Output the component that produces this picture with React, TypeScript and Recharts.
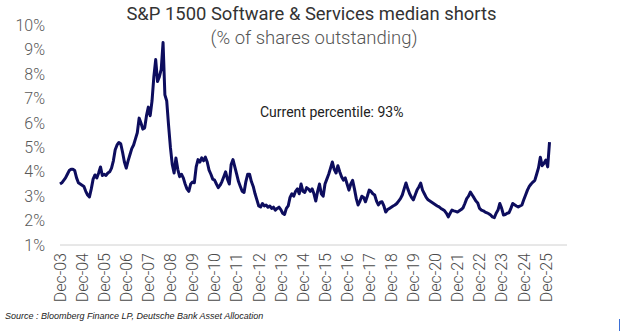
import React from "react";
import { LineChart, Line, XAxis, YAxis } from "recharts";

// Monthly median short interest (% of shares outstanding), starting Dec 2003
const startLabel = "Dec-03";
const shortsPct: number[] = [
  3.5, 3.55, 3.65, 3.75, 3.9, 4.05, 4.1, 4.1, 4.05, 3.75, 3.55, 3.5,
  3.45, 3.4, 3.2, 3.05, 2.97, 3.3, 3.7, 3.87, 3.75, 3.95, 4.2, 3.85,
  3.9, 3.85, 3.95, 4.0, 4.15, 4.45, 4.9, 5.1, 5.2, 5.15, 4.8, 4.4,
  4.15, 4.45, 4.7, 4.95, 5.1, 5.35, 5.6, 6.2, 6.0, 5.75, 5.8, 6.3,
  6.65, 6.3, 6.9, 7.9, 8.6, 7.7, 7.9, 8.2, 9.3, 7.15, 6.9, 5.9,
  5.0, 4.3, 3.95, 4.57, 4.1, 3.8, 3.9, 3.75, 3.5, 3.3, 3.2, 3.5,
  3.58, 3.55, 4.2, 4.5, 4.4, 4.57, 4.45, 4.6, 4.4, 4.07, 3.9, 3.7,
  3.66, 3.5, 3.35, 3.45, 3.6, 3.8, 4.0, 3.7, 3.5, 4.3, 4.5, 4.2,
  3.9, 3.6, 3.4, 3.2, 3.15, 3.6, 3.9, 3.9, 3.6, 3.4, 3.1, 2.85,
  2.6, 2.56, 2.7, 2.6, 2.64, 2.55, 2.6, 2.5, 2.55, 2.43, 2.5, 2.55,
  2.45, 2.3, 2.25, 2.5, 2.6, 2.95, 3.1, 3.0, 3.2, 3.3, 3.1, 3.5,
  3.2, 3.15, 3.35, 3.3, 3.2, 3.3, 3.1, 2.8, 3.2, 3.5, 3.1, 3.0,
  3.5, 3.7, 3.9, 4.15, 4.4, 4.1, 3.95, 4.25, 4.0, 3.8, 3.66, 3.75,
  3.5, 3.25, 3.5, 3.65, 3.3, 2.9, 2.64, 2.8, 3.0, 2.95, 2.77, 3.0,
  3.25, 3.2, 3.1, 3.05, 2.8, 2.64, 2.75, 2.77, 2.6, 2.35, 2.45, 2.5,
  2.55, 2.6, 2.64, 2.7, 2.8, 2.9, 3.05, 3.3, 3.54, 3.3, 3.1, 2.95,
  2.85, 3.05, 3.25, 3.38, 3.54, 3.25, 3.1, 2.95, 2.85, 2.8, 2.75, 2.7,
  2.65, 2.6, 2.56, 2.5, 2.45, 2.4, 2.3, 2.15, 2.3, 2.43, 2.4, 2.38,
  2.35, 2.4, 2.45, 2.52, 2.7, 2.9, 3.0, 3.17, 3.05, 2.93, 2.8, 2.72,
  2.5, 2.43, 2.4, 2.35, 2.32, 2.28, 2.23, 2.15, 2.12, 2.3, 2.43, 2.7,
  2.5, 2.23, 2.25, 2.3, 2.32, 2.5, 2.7, 2.65, 2.6, 2.56, 2.6, 2.64,
  2.85, 3.05, 3.25, 3.4, 3.5, 3.58, 3.65, 3.9, 4.16, 4.6, 4.25, 4.35,
  4.48, 4.2, 5.22,
];

const tickLabels: string[] = [
  "Dec-03", "Dec-04", "Dec-05", "Dec-06", "Dec-07", "Dec-08", "Dec-09", "Dec-10",
  "Dec-11", "Dec-12", "Dec-13", "Dec-14", "Dec-15", "Dec-16", "Dec-17", "Dec-18",
  "Dec-19", "Dec-20", "Dec-21", "Dec-22", "Dec-23", "Dec-24", "Dec-25",
];

const yTicks: number[] = [1, 2, 3, 4, 5, 6, 7, 8, 9, 10];

const title = "S&P 1500 Software & Services median shorts";
const subtitle = "(% of shares outstanding)";
const annotation = "Current percentile: 93%";
const source = "Source : Bloomberg Finance LP, Deutsche Bank Asset Allocation";

const data = shortsPct.map((v, i) => ({ m: i, v }));
const xTicks = tickLabels.map((_, i) => i * 12);
const labelFor = (m: number) => tickLabels[Math.round(m / 12)] ?? startLabel;

const FONT = "Roboto, 'Liberation Sans', Arial, sans-serif";

const XTick = (props: any) => {
  const { x, y, payload } = props;
  return (
    <text
      x={x}
      y={y}
      transform={`rotate(-90, ${x}, ${y})`}
      textAnchor="end"
      dy="0.36em"
      fill="#4a4a4a"
      fontSize={16}
      fontFamily={FONT}
      fontWeight={300}
    >
      {labelFor(payload.value)}
    </text>
  );
};

export default function App() {
  return (
    <div style={{ position: "absolute", left: 0, top: 0, width: 621, height: 331, background: "#fff", fontFamily: FONT }}>
      <div style={{ position: "absolute", left: 126, width: 371, top: 3, textAlign: "center", fontSize: 18.4, color: "#333", lineHeight: "22px", whiteSpace: "nowrap" }}>
        {title}
      </div>
      <div style={{ position: "absolute", left: 208, width: 212, top: 27, textAlign: "center", fontSize: 18.5, color: "#555", fontWeight: 300, lineHeight: "22px", whiteSpace: "nowrap" }}>
        {subtitle}
      </div>
      <div style={{ position: "absolute", left: 260, top: 103, fontSize: 14, color: "#222", lineHeight: "18px", whiteSpace: "nowrap" }}>
        {annotation}
      </div>
      <LineChart width={621} height={331} data={data} margin={{ top: 25.4, right: 0, bottom: 26, left: 0 }}>
        <XAxis
          dataKey="m"
          type="number"
          domain={[0, 275.5]}
          ticks={xTicks}
          interval={0}
          tick={<XTick />}
          tickLine={false}
          axisLine={{ stroke: "#d0d0d0", strokeWidth: 1 }}
          height={60}
        />
        <YAxis
          yAxisId="left"
          orientation="left"
          domain={[1, 10]}
          ticks={yTicks}
          width={60}
          tickLine={false}
          axisLine={false}
          tickMargin={9}
          tickFormatter={(v: number) => `${v}%`}
          tick={{ fill: "#595959", fontSize: 16, fontFamily: FONT, fontWeight: 300 }}
        />
        <YAxis
          yAxisId="right"
          orientation="right"
          domain={[1, 10]}
          ticks={yTicks}
          width={54}
          tickLine={false}
          axisLine={false}
          tickMargin={4}
          tickFormatter={(v: number) => `${v}%`}
          tick={{ fill: "#595959", fontSize: 16, fontFamily: FONT, fontWeight: 300, textAnchor: "start" }}
        />
        <Line
          yAxisId="left"
          dataKey="v"
          stroke="#0d0d5e"
          strokeWidth={3}
          dot={false}
          isAnimationActive={false}
          strokeLinejoin="round"
        />
      </LineChart>
      <div style={{ position: "absolute", left: 5, top: 311, fontSize: 9, fontStyle: "italic", color: "#222", fontFamily: "'Liberation Sans', Arial, sans-serif", whiteSpace: "nowrap", lineHeight: "11px" }}>
        {source}
      </div>
      <div style={{ position: "absolute", left: 619, top: 319, width: 1, height: 12, background: "#3b6fd6" }} />
    </div>
  );
}
